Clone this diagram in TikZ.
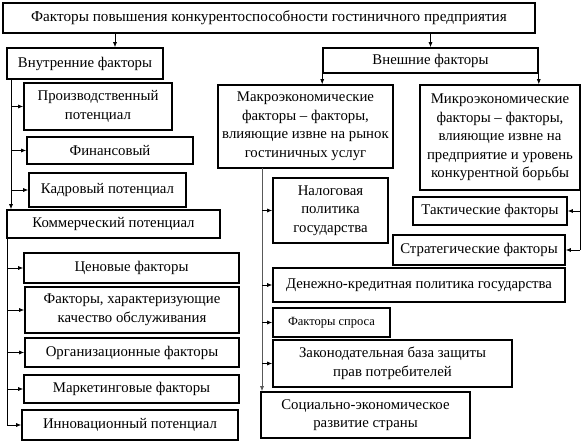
\documentclass[tikz,border=0pt]{standalone}
\usepackage{fontspec}
\setmainfont{Liberation Serif}
\usetikzlibrary{arrows.meta}

\begin{document}
\begin{tikzpicture}
            [x=1pt,y=-1pt,thin,
             every node/.style={draw,line width=1.6pt,rectangle,align=center,inner sep=1pt,
                                font=\fontsize{14.8}{18.5}\selectfont},
             arr/.style={-{Latex[length=5pt,width=4pt]},line width=0.7pt}]
            \useasboundingbox (0,0) rectangle (584,443);
            \node[minimum width=532pt,minimum height=30pt,font=\fontsize{15.2}{18}\selectfont] (T) at (269,18) {Факторы повышения конкурентоспособности гостиничного предприятия};

            % left part
            \node[minimum width=156pt,minimum height=31pt] (in) at (85,63.5) {Внутренние факторы};
            \node[minimum width=148pt,minimum height=47pt] (pr) at (98,106.5) {Производственный\\потенциал};
            \node[minimum width=166pt,minimum height=27pt] (fin) at (110,150.5) {Финансовый};
            \node[minimum width=157pt,minimum height=34pt] (kad) at (107.5,190) {Кадровый потенциал};
            \node[minimum width=213pt,minimum height=28pt] (kom) at (113.5,224) {Коммерческий потенциал};
            \node[minimum width=215pt,minimum height=30pt] (cen) at (131.5,268) {Ценовые факторы};
            \node[minimum width=214pt,minimum height=46pt] (kach) at (132,310) {Факторы, характеризующие\\качество обслуживания};
            \node[minimum width=214pt,minimum height=29pt] (org) at (132,352.5) {Организационные факторы};
            \node[minimum width=215pt,minimum height=28pt] (mark) at (131.5,389) {Маркетинговые факторы};
            \node[minimum width=216pt,minimum height=30pt] (inn) at (130,425) {Инновационный потенциал};

            % right part
            \node[minimum width=215pt,minimum height=25pt] (ext) at (430.5,60.5) {Внешние факторы};
            \node[minimum width=175pt,minimum height=83pt] (mac) at (305.5,126.5) {Макроэкономические\\факторы -- факторы,\\влияющие извне на рынок\\гостиничных услуг};
            \node[minimum width=160pt,minimum height=105pt] (mic) at (500,137.5) {Микроэкономические\\факторы -- факторы,\\влияющие извне на\\предприятие и уровень\\конкурентной борьбы};
            \node[minimum width=115pt,minimum height=65pt] (nal) at (330.5,210.5) {Налоговая\\политика\\государства};
            \node[minimum width=292pt,minimum height=34pt] (den) at (419,285) {Денежно-кредитная политика государства};
            \node[minimum width=117pt,minimum height=29pt,font=\fontsize{12.5}{15}\selectfont] (spr) at (331.5,322.5) {Факторы спроса};
            \node[minimum width=239pt,minimum height=47pt] (zak) at (392.5,363.5) {Законодательная база защиты\\прав потребителей};
            \node[minimum width=209pt,minimum height=46pt] (soc) at (365.5,415) {Социально-экономическое\\развитие страны};
            \node[minimum width=154pt,minimum height=28pt] (tak) at (490,211) {Тактические факторы};
            \node[minimum width=172pt,minimum height=30pt] (str) at (479,250) {Стратегические факторы};

            \coordinate (c1) at (115,0);
            \coordinate (a) at (11,79);
            \coordinate (b) at (7,238);
            \coordinate (m) at (262,168);
            \coordinate (n) at (580,190);

            % top
            \draw[arr] (c1 |- T.south) -- (c1 |- in.north);
            \draw[arr] (ext.north |- T.south) -- (ext.north);
            \draw[arr] (ext.south west) -- (ext.south west |- mac.north);
            \draw[arr] (ext.south east) -- (ext.south east |- mic.north);

            % internal
            \draw[arr] (a) -- (a |- kom.north);
            \draw[arr] (a |- pr) -- (pr.west);
            \draw[arr] (a |- fin) -- (fin.west);
            \draw[arr] (a |- kad) -- (kad.west);
            \draw[line width=0.7pt] (b) -- (b |- inn);
            \draw[arr] (b |- cen) -- (cen.west);
            \draw[arr] (b |- kach) -- (kach.west);
            \draw[arr] (b |- org) -- (org.west);
            \draw[arr] (b |- mark) -- (mark.west);
            \draw[arr] (b |- inn) -- (inn.west);

            % external
            \draw[arr,gray!70!black] (m) -- (m |- soc.north);
            \draw[arr] (m |- nal) -- (nal.west);
            \draw[arr] (m |- den) -- (den.west);
            \draw[arr] (m |- spr) -- (spr.west);
            \draw[arr] (m |- zak) -- (zak.west);
            \draw[line width=0.7pt] (n) -- (n |- str);
            \draw[arr] (n |- tak) -- (tak.east);
            \draw[arr] (n |- str) -- (str.east);
        \end{tikzpicture}
\end{document}
